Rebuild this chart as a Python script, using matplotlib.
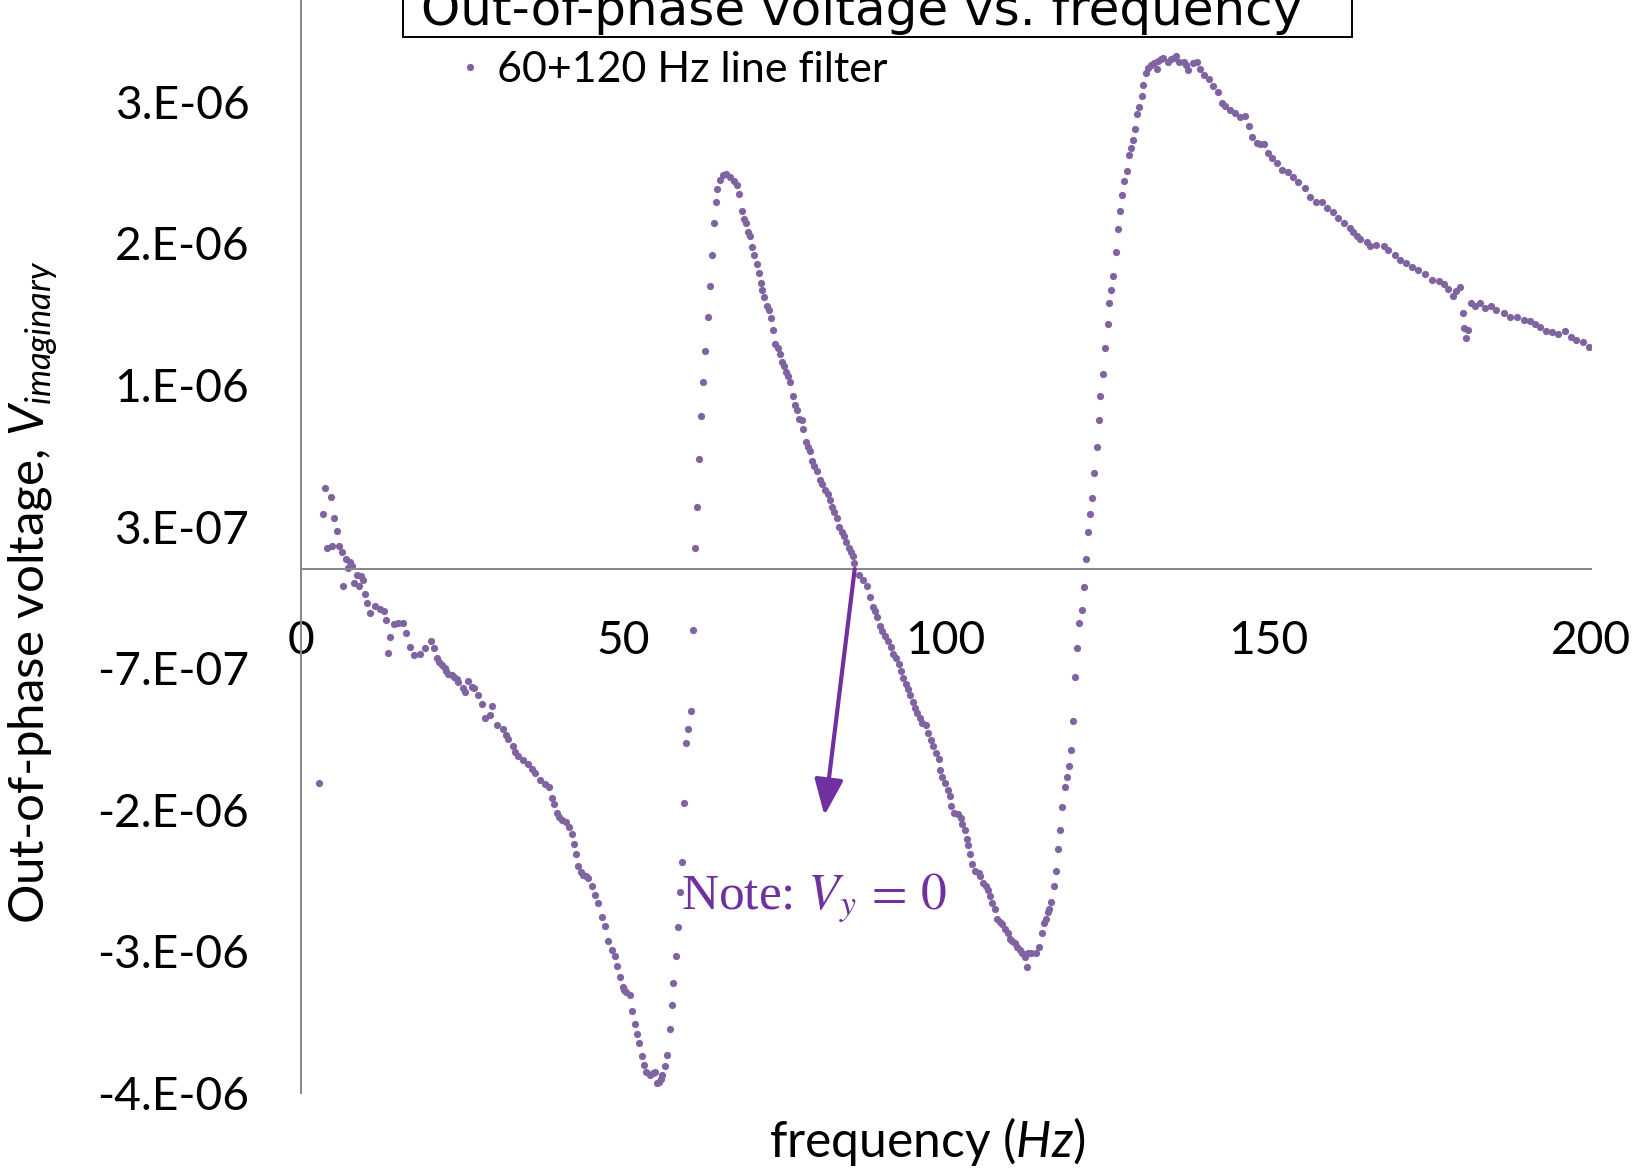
# Out-of-phase lock-in voltage vs frequency (60+120 Hz line filter)
import numpy as np
import matplotlib
matplotlib.use("Agg")
import matplotlib.pyplot as plt
from matplotlib.patches import Rectangle
from matplotlib.ticker import FixedLocator, FuncFormatter

# ── data (frequency in Hz, V_imaginary in microvolts) ──
freq_hz = [
    2.9, 3.4, 3.8, 4.1, 4.7, 4.9, 5.2, 5.7, 5.9, 6.4, 6.5, 7.0, 7.4, 7.6, 8.0, 8.2,
    8.7, 9.0, 9.3, 9.6, 10.0, 10.3, 10.8, 11.5, 12.3, 12.9, 13.2, 13.6, 13.9, 14.4,
    15.1, 15.9, 16.4, 16.9, 17.6, 18.5, 19.3, 20.2, 20.7, 21.1, 21.5, 21.9, 22.3,
    22.6, 22.9, 23.4, 23.7, 24.2, 24.4, 25.1, 25.4, 26.0, 26.5, 26.8, 27.5, 28.1,
    28.6, 29.4, 29.6, 30.4, 31.4, 31.8, 32.2, 32.9, 33.3, 33.7, 34.5, 35.3, 35.8,
    36.3, 37.1, 37.9, 38.5, 38.9, 39.3, 39.7, 40.1, 40.5, 41.2, 41.6, 42.0, 42.4,
    42.7, 43.0, 43.4, 43.8, 44.2, 44.6, 45.1, 45.6, 46.1, 46.7, 47.2, 47.7, 48.2,
    48.7, 49.0, 49.5, 49.9, 50.2, 50.5, 51.1, 51.3, 51.8, 52.1, 52.5, 52.9, 53.2,
    53.6, 54.2, 54.6, 54.9, 55.2, 55.5, 55.8, 56.0, 56.5, 56.8, 57.2, 57.5, 57.8,
    58.2, 58.5, 58.8, 59.1, 59.4, 59.8, 60.1, 60.5, 60.8, 61.1, 61.4, 61.8, 62.1,
    62.4, 62.7, 63.1, 63.4, 63.8, 64.1, 64.4, 64.6, 65.0, 65.5, 66.0, 66.5, 67.2,
    67.7, 68.0, 68.4, 68.7, 69.0, 69.4, 69.7, 70.0, 70.3, 70.7, 71.1, 71.4, 71.6,
    71.9, 72.3, 72.6, 72.9, 73.3, 73.6, 74.0, 74.3, 74.6, 74.9, 75.2, 75.6, 75.9,
    76.3, 76.6, 77.0, 77.3, 77.7, 77.9, 78.3, 78.6, 78.9, 79.2, 79.6, 80.0, 80.5,
    80.9, 81.3, 81.7, 82.1, 82.4, 82.7, 83.2, 83.5, 83.9, 84.3, 84.6, 85.0, 85.3,
    85.6, 85.8, 86.6, 87.2, 87.8, 88.3, 88.7, 89.0, 89.4, 89.8, 90.2, 90.6, 91.0,
    91.5, 91.9, 92.3, 92.7, 93.0, 93.4, 93.8, 94.1, 94.5, 94.9, 95.2, 95.6, 96.0,
    96.4, 96.9, 97.3, 97.7, 98.1, 98.5, 98.9, 99.2, 99.5, 99.9, 100.3, 100.7, 100.9,
    101.3, 101.9, 102.4, 102.6, 103.0, 103.3, 103.5, 103.8, 104.1, 104.6, 105.1,
    105.4, 105.8, 106.3, 106.6, 106.9, 107.2, 107.7, 108.0, 108.4, 108.8, 109.2,
    109.6, 110.0, 110.3, 110.8, 111.1, 111.5, 111.9, 112.3, 112.6, 112.8, 113.3,
    114.0, 114.5, 114.9, 115.2, 115.6, 115.8, 116.1, 116.4, 116.8, 117.1, 117.4,
    117.7, 118.1, 118.5, 118.8, 119.1, 119.4, 119.8, 120.1, 120.4, 120.7, 121.1,
    121.5, 121.8, 122.1, 122.4, 122.7, 123.0, 123.4, 123.7, 124.0, 124.4, 124.7,
    125.1, 125.4, 125.7, 126.0, 126.4, 126.7, 127.0, 127.3, 127.7, 128.1, 128.4,
    128.7, 129.0, 129.4, 129.6, 130.0, 130.4, 130.6, 131.1, 131.4, 131.9, 132.3,
    132.7, 133.0, 133.4, 133.7, 134.4, 135.0, 135.4, 135.7, 136.2, 136.9, 137.2,
    137.6, 138.3, 138.9, 139.4, 140.1, 140.8, 141.5, 142.3, 142.8, 143.3, 144.1,
    144.9, 145.6, 146.4, 147.1, 147.5, 148.2, 148.8, 149.3, 150.0, 150.6, 151.3,
    152.1, 153.1, 153.9, 154.7, 155.7, 156.5, 157.5, 158.3, 159.1, 160.0, 160.9,
    161.7, 162.7, 163.2, 163.8, 164.3, 165.3, 165.8, 166.7, 167.9, 168.6, 169.7,
    170.4, 171.4, 172.3, 173.3, 174.3, 175.4, 176.5, 177.2, 177.9, 178.7, 179.2,
    179.8, 180.2, 180.3, 180.7, 181.0, 181.4, 182.1, 182.9, 183.6, 184.5, 185.4,
    186.5, 187.5, 188.6, 189.6, 190.6, 191.4, 192.2, 193.1, 194.0, 195.0, 196.0,
    196.9, 197.8, 198.8, 199.7,
]
v_imag_uv = [
    -1.51, 0.39, 0.57, 0.15, 0.51, 0.16, 0.36, 0.27, 0.16, 0.12, -0.12, 0.07, 0.01,
    0.05, 0.02, -0.10, -0.04, -0.12, -0.05, -0.08, -0.18, -0.24, -0.31, -0.26, -0.28,
    -0.30, -0.36, -0.59, -0.48, -0.39, -0.38, -0.38, -0.45, -0.55, -0.61, -0.60,
    -0.56, -0.51, -0.56, -0.63, -0.66, -0.68, -0.70, -0.72, -0.74, -0.75, -0.76,
    -0.78, -0.80, -0.84, -0.87, -0.79, -0.83, -0.84, -0.89, -0.95, -1.05, -1.03,
    -0.97, -1.10, -1.13, -1.17, -1.20, -1.25, -1.29, -1.32, -1.35, -1.38, -1.41,
    -1.44, -1.49, -1.52, -1.54, -1.62, -1.66, -1.72, -1.75, -1.77, -1.79, -1.82,
    -1.87, -1.94, -2.01, -2.10, -2.14, -2.16, -2.17, -2.18, -2.24, -2.30, -2.36,
    -2.46, -2.52, -2.63, -2.69, -2.73, -2.80, -2.88, -2.95, -2.97, -2.99, -3.01,
    -3.12, -3.21, -3.28, -3.35, -3.44, -3.50, -3.55, -3.57, -3.56, -3.55, -3.63,
    -3.62, -3.60, -3.57, -3.51, -3.43, -3.25, -3.08, -2.92, -2.73, -2.53, -2.28,
    -2.07, -1.65, -1.23, -1.13, -1.00, -0.43, 0.15, 0.44, 0.78, 1.08, 1.32, 1.54,
    1.78, 2.00, 2.22, 2.44, 2.59, 2.68, 2.75, 2.78, 2.79, 2.77, 2.74, 2.71, 2.65,
    2.53, 2.47, 2.44, 2.38, 2.35, 2.27, 2.22, 2.15, 2.09, 2.02, 1.97, 1.92, 1.86,
    1.83, 1.77, 1.69, 1.59, 1.56, 1.52, 1.46, 1.43, 1.39, 1.36, 1.32, 1.22, 1.16,
    1.12, 1.06, 1.05, 0.99, 0.90, 0.86, 0.83, 0.76, 0.73, 0.69, 0.63, 0.60, 0.56,
    0.53, 0.49, 0.44, 0.40, 0.36, 0.30, 0.26, 0.23, 0.19, 0.15, 0.12, 0.09, 0.04,
    -0.04, -0.08, -0.12, -0.20, -0.27, -0.30, -0.34, -0.40, -0.44, -0.47, -0.51,
    -0.55, -0.60, -0.63, -0.67, -0.72, -0.77, -0.81, -0.85, -0.89, -0.94, -0.98,
    -1.02, -1.05, -1.09, -1.10, -1.16, -1.21, -1.25, -1.30, -1.34, -1.42, -1.47,
    -1.51, -1.56, -1.60, -1.67, -1.72, -1.73, -1.76, -1.80, -1.84, -1.91, -1.95,
    -2.01, -2.08, -2.13, -2.15, -2.17, -2.22, -2.24, -2.27, -2.31, -2.36, -2.40,
    -2.47, -2.49, -2.51, -2.54, -2.57, -2.61, -2.63, -2.64, -2.67, -2.69, -2.71,
    -2.74, -2.81, -2.71, -2.71, -2.71, -2.67, -2.57, -2.50, -2.47, -2.42, -2.40,
    -2.35, -2.24, -2.13, -1.98, -1.84, -1.68, -1.54, -1.47, -1.39, -1.28, -1.07,
    -0.76, -0.56, -0.38, -0.29, -0.13, 0.07, 0.26, 0.39, 0.50, 0.68, 0.86, 1.05,
    1.22, 1.38, 1.56, 1.73, 1.88, 1.97, 2.07, 2.24, 2.40, 2.53, 2.64, 2.74, 2.81,
    2.92, 2.97, 3.03, 3.11, 3.21, 3.26, 3.34, 3.42, 3.50, 3.54, 3.56, 3.57, 3.53,
    3.59, 3.60, 3.61, 3.58, 3.60, 3.61, 3.62, 3.58, 3.58, 3.56, 3.52, 3.57, 3.58,
    3.53, 3.49, 3.46, 3.41, 3.37, 3.29, 3.27, 3.24, 3.22, 3.19, 3.20, 3.13, 3.05,
    3.01, 3.00, 3.00, 2.94, 2.90, 2.87, 2.82, 2.80, 2.77, 2.73, 2.69, 2.63, 2.59,
    2.59, 2.55, 2.52, 2.48, 2.44, 2.41, 2.38, 2.35, 2.33, 2.31, 2.28, 2.29, 2.28,
    2.25, 2.22, 2.18, 2.16, 2.13, 2.11, 2.08, 2.04, 2.03, 2.01, 1.98, 1.93, 1.96,
    1.99, 1.81, 1.70, 1.63, 1.69, 1.88, 1.86, 1.88, 1.84, 1.86, 1.83, 1.81, 1.78,
    1.78, 1.76, 1.75, 1.73, 1.71, 1.68, 1.67, 1.66, 1.68, 1.64, 1.62, 1.60, 1.57,
]
v_imag = np.array(v_imag_uv) * 1e-6

x_ticks = [0, 50, 100, 150, 200]
y_ticks = [-3.7e-6, -2.7e-6, -1.7e-6, -0.7e-6, 0.3e-6, 1.3e-6, 2.3e-6, 3.3e-6]

DOT = "#8064A2"
NOTE = "#7030A0"
AXIS = "#868686"

plt.rcParams["font.family"] = "Lato"
plt.rcParams["mathtext.fontset"] = "custom"
plt.rcParams["mathtext.rm"] = "Lato"
plt.rcParams["mathtext.it"] = "Lato:italic"
plt.rcParams["axes.unicode_minus"] = False

W, H = 1643, 1174
fig = plt.figure(figsize=(W / 100, H / 100), dpi=100)
fx = lambda px: px / W
fy = lambda py: 1 - py / H

# axes box in pixels: x 0..200 -> 300.7..1590.6, y -3.7e-6..4.3e-6 -> 1093..-40
ax = fig.add_axes([fx(300.7), fy(1093), (1590.6 - 300.7) / W, (1093 + 40) / H])
ax.set_xlim(0, 200)
ax.set_ylim(-3.7e-6, 4.3e-6)

ax.plot(freq_hz, v_imag, "o", ms=5.2, color=DOT, mec="none",
        label="60+120 Hz line filter")

# ── axes styling (Excel-like) ───────────────────────────────
for s in ("top", "right"):
    ax.spines[s].set_visible(False)
ax.spines["bottom"].set_position(("data", 0))
ax.spines["left"].set_position(("data", 0))
for s in ("bottom", "left"):
    ax.spines[s].set_color(AXIS)
    ax.spines[s].set_linewidth(1.4)

ax.xaxis.set_major_locator(FixedLocator(x_ticks))
ax.yaxis.set_major_locator(FixedLocator(y_ticks))
ax.yaxis.set_major_formatter(FuncFormatter(lambda v, p: f"{v:#.0E}"))
ax.tick_params(length=0, pad=37, labelsize=33.2)

# ── annotation ─────────────────────────────────────────────
ax.annotate("", xy=(81.2, -1.74e-6), xytext=(85.9, 0.0),
            arrowprops=dict(arrowstyle="-|>,head_length=1.0,head_width=0.4",
                            color=NOTE, lw=3, shrinkA=0, shrinkB=0,
                            mutation_scale=22))
ax.text(59.0, -2.40e-6, "Note: $V_y\\,=\\,0$", color=NOTE, fontsize=37,
        family="Liberation Serif", math_fontfamily="stix", va="baseline")

# ── legend ─────────────────────────────────────────────────
ax.legend(loc="center left", bbox_to_anchor=(fx(460), fy(70)),
          bbox_transform=fig.transFigure, frameon=False, fontsize=31,
          handlelength=0.45, handletextpad=0.4, borderpad=0, borderaxespad=0)

# ── labels ─────────────────────────────────────────────────
fig.text(fx(927), fy(1142), "frequency ($Hz$)", ha="center", va="center",
         fontsize=35.8)
fig.text(fx(33), fy(592), "Out-of-phase voltage, $V_{imaginary}$",
         rotation=90, ha="center", va="center", fontsize=35.5)

# title box, cut off by the top edge like the original slide
fig.add_artist(Rectangle((fx(403), fy(36.7)), (1352 - 403) / W, 0.2,
                         transform=fig.transFigure, facecolor="white",
                         edgecolor="black", lw=1.4, zorder=3))
fig.text(fx(862), fy(25), "Out-of-phase voltage vs. frequency", ha="center",
         va="baseline", fontsize=36, family="DejaVu Sans", zorder=4)

fig.savefig("out.png", dpi=100)
